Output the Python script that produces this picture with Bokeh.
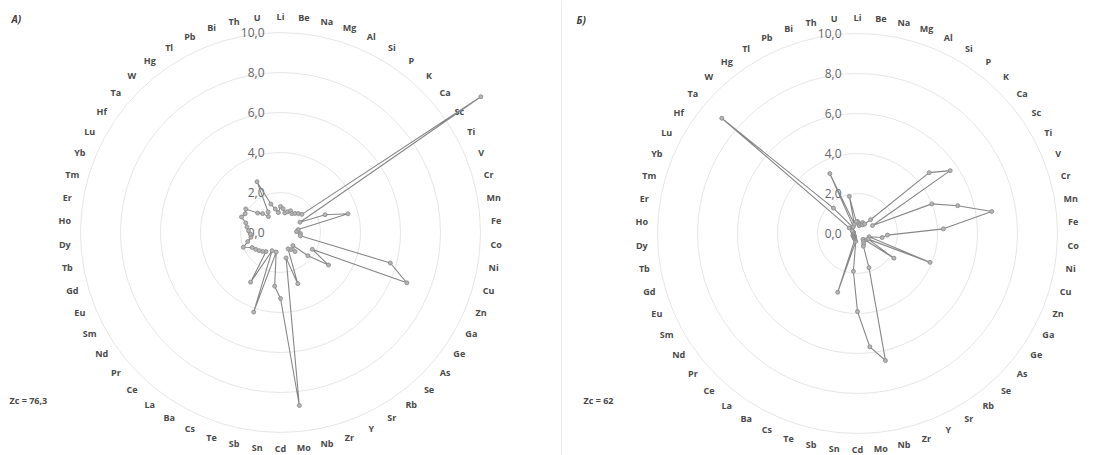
import math
from bokeh.plotting import figure
from bokeh.layouts import row
from bokeh.models import Span
from bokeh.core.properties import value
from bokeh.embed import file_html
from bokeh.resources import INLINE

# ---------------- data ----------------
elements = ["Li", "Be", "Na", "Mg", "Al", "Si", "P", "K", "Ca", "Sc", "Ti", "V", "Cr", "Mn",
            "Fe", "Co", "Ni", "Cu", "Zn", "Ga", "Ge", "As", "Se", "Rb", "Sr", "Y", "Zr", "Nb",
            "Mo", "Cd", "Sn", "Sb", "Te", "Cs", "Ba", "La", "Ce", "Pr", "Nd", "Sm", "Eu", "Gd",
            "Tb", "Dy", "Ho", "Er", "Tm", "Yb", "Lu", "Hf", "Ta", "W", "Hg", "Tl", "Pb", "Bi",
            "Th", "U"]

values_a = [1.3, 1.2, 1.0, 1.1, 1.2, 1.1, 1.2, 1.3, 1.4, 12.1, 1.1, 2.4, 3.5, 0.9,
            0.8, 1.0, 1.0, 5.7, 6.8, 1.8, 2.9, 1.8, 0.9, 1.2, 1.0, 0.9, 2.7, 1.3,
            8.7, 3.3, 2.7, 1.0, 4.2, 1.0, 2.9, 1.2, 1.3, 1.4, 1.5, 1.6, 2.0, 1.7,
            1.5, 1.5, 1.6, 1.7, 1.8, 2.1, 2.0, 2.1, 1.5, 1.3, 1.0, 1.2, 2.8, 1.5,
            1.2, 1.0]

values_b = [0.6, 0.5, 0.4, 0.5, 0.6, 0.5, 0.6, 0.95, 4.7, 5.6, 0.85, 4.0, 5.2, 6.8,
            4.3, 1.5, 1.25, 0.6, 3.9, 0.6, 2.2, 0.5, 0.4, 0.5, 0.6, 0.7, 1.8, 6.5,
            5.7, 3.9, 1.9, 0.4, 3.1, 0.3, 0.3, 0.25, 0.25, 0.2, 0.25, 0.2, 0.25, 0.2,
            0.2, 0.2, 0.2, 0.2, 0.2, 0.25, 0.3, 0.5, 8.9, 1.75, 0.4, 0.4, 3.3, 0.5,
            1.9, 0.6]

tick_values = [0, 2, 4, 6, 8, 10]
tick_labels = ["0,0", "2,0", "4,0", "6,0", "8,0", "10,0"]
panel_titles = ["А)", "Б)"]
zc_labels = ["Zc = 76,3", "Zc = 62"]

# ---------------- layout constants ----------------
PX = 20.0          # pixels per radial unit
LABEL_R = 10.8     # radius of category labels
FONT = value("Open Sans")


def make_panel(vals, title, zc, width, height, cx, cy, title_px, zc_px, divider=False):
    x0 = -cx / PX
    x1 = (width - cx) / PX
    y1 = cy / PX
    y0 = -(height - cy) / PX
    p = figure(width=width, height=height, x_range=(x0, x1), y_range=(y0, y1),
               output_backend="svg", toolbar_location=None, min_border=0)
    p.axis.visible = False
    p.grid.visible = False
    p.outline_line_color = None
    p.background_fill_color = "white"
    p.border_fill_color = "white"

    # radial gridlines
    rings = [t for t in tick_values if t > 0]
    p.circle(x=[0] * len(rings), y=[0] * len(rings), radius=rings,
             fill_color=None, line_color="#e6e6e6", line_width=1)

    # value axis labels
    p.text(x=[-0.8] * len(tick_values), y=tick_values, text=tick_labels,
           text_align="right", text_baseline="middle", text_font=FONT,
           text_font_size="12px", text_color="#666666")

    n = len(elements)
    thetas = [2 * math.pi * i / n for i in range(n)]

    # category labels
    lx = [LABEL_R * math.sin(t) for t in thetas]
    ly = [LABEL_R * math.cos(t) for t in thetas]
    p.text(x=lx, y=ly, text=elements, text_align="center", text_baseline="middle",
           text_font=FONT, text_font_size="9px", text_font_style="bold",
           text_color="#4a4a4a")

    # series
    xs = [v * math.sin(t) for v, t in zip(vals, thetas)]
    ys = [v * math.cos(t) for v, t in zip(vals, thetas)]
    p.line(x=xs + xs[:1], y=ys + ys[:1], line_color="#878787", line_width=1.1)
    p.scatter(x=xs, y=ys, marker="circle", size=4, fill_color="#b5b5b5",
              line_color="#878787", line_width=0.8)

    # panel title and Zc text
    tx = (title_px[0] - cx) / PX
    ty = (cy - title_px[1]) / PX
    p.text(x=[tx], y=[ty], text=[title], text_align="left", text_baseline="middle",
           text_font=FONT, text_font_size="10px", text_font_style="bold italic",
           text_color="#404040")
    zx = (zc_px[0] - cx) / PX
    zy = (cy - zc_px[1]) / PX
    p.text(x=[zx], y=[zy], text=[zc], text_align="left", text_baseline="middle",
           text_font=FONT, text_font_size="9px", text_font_style="bold",
           text_color="#4a4a4a")

    if divider:
        p.add_layout(Span(location=x0 + 0.05, dimension="height",
                          line_color="#ececec", line_width=1))
    return p


pa = make_panel(values_a, panel_titles[0], zc_labels[0], 560, 455, 280, 232,
                (11, 18), (9, 400))
pb = make_panel(values_b, panel_titles[1], zc_labels[1], 556, 455, 297, 233,
                (16, 19), (23, 400), divider=True)

layout = row(pa, pb)
open("out.html", "w").write(file_html(layout, INLINE))
